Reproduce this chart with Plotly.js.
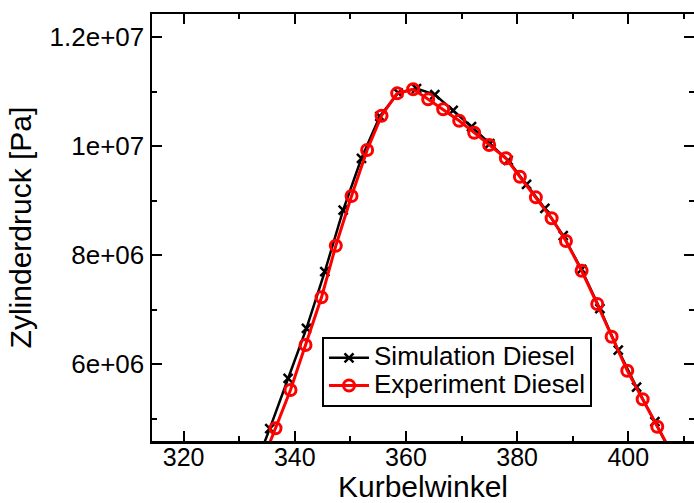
<!DOCTYPE html>
<html>
<head>
<meta charset="utf-8">
<script src="https://cdn.plot.ly/plotly-3.0.1.min.js"></script>
<style>html,body{margin:0;padding:0;background:#fff;}#chart{width:694px;height:503px;}</style>
</head>
<body>
<div id="chart"></div>
<script>
// Simulation Diesel (crank angle, cylinder pressure in Pa)
const simAngle = [332.2, 335.5, 338.8, 342.1, 345.4, 348.7, 352.0, 355.3, 358.6, 361.9, 365.2, 368.5, 371.8, 375.1, 378.4, 381.7, 385.0, 388.3, 391.6, 394.9, 398.2, 401.5, 404.8, 408.1];
const simPressure = [3.95e6, 4.82e6, 5.74e6, 6.66e6, 7.70e6, 8.83e6, 9.78e6, 10.55e6, 10.98e6, 11.06e6, 10.95e6, 10.66e6, 10.36e6, 10.05e6, 9.74e6, 9.30e6, 8.86e6, 8.36e6, 7.74e6, 7.02e6, 6.26e6, 5.58e6, 4.95e6, 4.30e6];

// Experiment Diesel
const expAngle = [333.8, 336.53, 339.23, 341.93, 344.81, 347.38, 350.21, 353.02, 355.61, 358.42, 361.30, 364.00, 366.70, 369.58, 372.28, 374.98, 377.98, 380.50, 383.38, 386.21, 388.79, 391.61, 394.42, 397.01, 399.82, 402.59, 405.22, 407.9];
const expPressure = [4.12e6, 4.826e6, 5.528e6, 6.354e6, 7.229e6, 8.176e6, 9.088e6, 9.932e6, 10.561e6, 10.972e6, 11.046e6, 10.862e6, 10.679e6, 10.470e6, 10.250e6, 10.024e6, 9.780e6, 9.442e6, 9.064e6, 8.679e6, 8.262e6, 7.717e6, 7.106e6, 6.506e6, 5.883e6, 5.358e6, 4.855e6, 4.36e6];

const seriesNames = ['Simulation Diesel', 'Experiment Diesel'];
const xTickVals = [320, 340, 360, 380, 400];
const yTickVals = [6e6, 8e6, 1e7, 1.2e7];
const yTickText = ['6e+06', '8e+06', '1e+07', '1.2e+07'];

const FONT = 'Liberation Sans, Arial, Helvetica, sans-serif';
const legendLabel = s => '<span style="font-size:26px">' + s + '</span>';

const traces = [
  {
    x: simAngle, y: simPressure, name: legendLabel(seriesNames[0]),
    type: 'scatter', mode: 'lines+markers',
    line: {color: '#000000', width: 2.5},
    marker: {symbol: 'x-thin-open', size: 9, line: {color: '#000000', width: 2.5}, color: '#000000'}
  },
  {
    x: expAngle, y: expPressure, name: legendLabel(seriesNames[1]),
    type: 'scatter', mode: 'lines+markers',
    line: {color: '#ff0000', width: 3},
    marker: {symbol: 'circle-open', size: 11, line: {color: '#ff0000', width: 3}, color: '#ff0000'}
  }
];

const axisCommon = {
  showgrid: false, zeroline: false,
  showline: true, linecolor: '#000', linewidth: 2.5, mirror: 'ticks',
  ticks: 'inside', ticklen: 10, tickwidth: 2, tickcolor: '#000'
};

const layout = {
  width: 694, height: 503,
  margin: {l: 152, r: 0, t: 14, b: 62, pad: 0},
  paper_bgcolor: '#fff', plot_bgcolor: '#fff',
  font: {family: FONT, color: '#000'},
  showlegend: true,
  legend: {
    x: 0.3137, y: 0.2436, xanchor: 'left', yanchor: 'top',
    bgcolor: '#fff', bordercolor: '#000', borderwidth: 2,
    font: {family: FONT, size: 19, color: '#000'},
    tracegroupgap: 0, itemwidth: 40
  },
  xaxis: Object.assign({}, axisCommon, {
    range: [314.31, 411.83],
    tickmode: 'array', tickvals: xTickVals,
    tickfont: {family: FONT, size: 25, color: '#000'},
    ticklabelstandoff: -8,
    minor: {dtick: 10, tick0: 310, ticklen: 5, tickwidth: 2, tickcolor: '#000', ticks: 'inside'},
    title: {text: 'Kurbelwinkel', font: {family: FONT, size: 30, color: '#000'}, standoff: 0}
  }),
  yaxis: Object.assign({}, axisCommon, {
    range: [4.593e6, 12.428e6],
    tickmode: 'array', tickvals: yTickVals, ticktext: yTickText,
    tickfont: {family: FONT, size: 26, color: '#000'},
    minor: {dtick: 1e6, tick0: 0, ticklen: 5, tickwidth: 2, tickcolor: '#000', ticks: 'inside'},
    title: {text: 'Zylinderdruck [Pa]', font: {family: FONT, size: 30, color: '#000'}, standoff: 9}
  })
};

Plotly.newPlot('chart', traces, layout, {displayModeBar: false, staticPlot: true});
</script>
</body>
</html>
